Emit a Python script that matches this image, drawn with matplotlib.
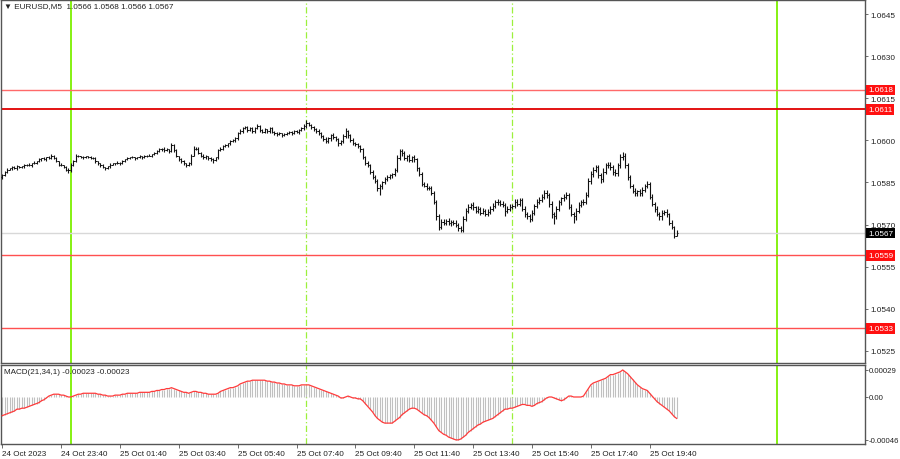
import matplotlib
matplotlib.use("Agg")
import matplotlib.pyplot as plt
import numpy as np
import pandas as pd
from matplotlib.transforms import blended_transform_factory

# ---------------- data ----------------
symbol_title = "EURUSD,M5"
start_time = "2023-10-24 21:40"
bar_minutes = 5
price_base = 1.0
price_unit = 1e-5
first_open = 5870

close_pts = [
    5875, 5889, 5896, 5900, 5904, 5900, 5907, 5904, 5907, 5911,
    5914, 5911, 5918, 5921, 5925, 5932, 5936, 5932, 5939, 5936,
    5946, 5936, 5925, 5914, 5911, 5904, 5896, 5893, 5911, 5925,
    5946, 5943, 5939, 5939, 5943, 5939, 5936, 5936, 5925, 5918,
    5911, 5904, 5900, 5907, 5914, 5918, 5918, 5921, 5918, 5925,
    5932, 5936, 5939, 5939, 5936, 5939, 5943, 5939, 5943, 5946,
    5946, 5950, 5954, 5961, 5968, 5971, 5964, 5968, 5961, 5982,
    5964, 5943, 5932, 5925, 5918, 5911, 5918, 5946, 5971, 5971,
    5954, 5946, 5939, 5943, 5936, 5932, 5929, 5939, 5964, 5971,
    5979, 5982, 5989, 5996, 6000, 6007, 6025, 6032, 6043, 6046,
    6036, 6043, 6032, 6043, 6050, 6036, 6029, 6039, 6032, 6043,
    6029, 6025, 6021, 6025, 6018, 6021, 6025, 6029, 6025, 6032,
    6029, 6036, 6043, 6050, 6061, 6054, 6046, 6039, 6032, 6025,
    6014, 6004, 5996, 6007, 6018, 6011, 6004, 5989, 5996, 6014,
    6032, 6018, 6000, 5989, 5986, 5979, 5968, 5939, 5921, 5911,
    5889, 5871, 5857, 5829, 5836, 5850, 5864, 5868, 5875, 5879,
    5896, 5936, 5961, 5954, 5936, 5943, 5929, 5939, 5932, 5900,
    5879, 5846, 5839, 5832, 5829, 5814, 5782, 5729, 5693, 5711,
    5707, 5714, 5704, 5711, 5707, 5700, 5689, 5682, 5721, 5750,
    5764, 5771, 5761, 5750, 5757, 5743, 5750, 5739, 5746, 5757,
    5768, 5779, 5782, 5775, 5771, 5750, 5757, 5764, 5768, 5782,
    5775, 5786, 5757, 5739, 5729, 5721, 5743, 5768, 5782, 5789,
    5800, 5814, 5804, 5775, 5739, 5729, 5757, 5779, 5793, 5800,
    5807, 5764, 5739, 5729, 5750, 5771, 5779, 5782, 5807, 5857,
    5879, 5896, 5904, 5875, 5861, 5889, 5911, 5914, 5904, 5889,
    5882, 5911, 5939, 5946, 5914, 5868, 5839, 5821, 5811, 5818,
    5811, 5825, 5836, 5843, 5800, 5775, 5757, 5739, 5729, 5743,
    5746, 5736, 5707, 5690, 5660, 5670,
]

upper_wick = [
    4, 3, 5, 2, 4, 3, 5, 3, 2, 4,
    3, 5, 2, 4, 3, 6, 2, 4, 3, 5,
    6, 3, 4, 2, 5, 3, 4, 6, 8, 4,
    5, 3, 2, 4, 3, 2, 4, 3, 5, 2,
    3, 4, 2, 3, 5, 3, 2, 4, 3, 5,
    2, 4, 3, 5, 2, 3, 4, 2, 5, 3,
    4, 3, 5, 4, 6, 3, 5, 4, 3, 8,
    4, 6, 3, 5, 4, 3, 6, 5, 8, 4,
    5, 3, 4, 6, 3, 5, 4, 3, 6, 5,
    4, 6, 3, 5, 4, 6, 5, 7, 4, 6,
    5, 4, 6, 3, 7, 4, 5, 6, 3, 5,
    4, 3, 5, 4, 3, 6, 4, 5, 3, 4,
    5, 6, 4, 7, 12, 5, 6, 4, 5, 7,
    6, 5, 8, 4, 6, 7, 5, 4, 6, 10,
    12, 6, 5, 7, 4, 6, 5, 4, 6, 5,
    5, 7, 4, 6, 8, 5, 6, 7, 5, 6,
    6, 12, 10, 7, 8, 6, 9, 7, 8, 5,
    6, 7, 5, 8, 6, 7, 5, 6, 8, 10,
    8, 6, 9, 7, 5, 8, 6, 7, 9, 10,
    8, 7, 9, 6, 8, 7, 10, 6, 8, 9,
    9, 7, 8, 6, 10, 7, 9, 8, 6, 8,
    8, 9, 7, 10, 6, 8, 9, 7, 10, 8,
    9, 11, 8, 7, 10, 6, 9, 8, 7, 10,
    8, 7, 9, 6, 10, 8, 7, 9, 8, 10,
    12, 9, 8, 10, 7, 11, 9, 10, 8, 7,
    9, 10, 12, 11, 8, 7, 9, 6, 8, 7,
    8, 9, 10, 12, 7, 8, 6, 9, 7, 8,
    7, 9, 6, 8, 5, 10,
]

lower_wick = [
    8, 3, 4, 2, 5, 3, 4, 2, 3, 4,
    4, 3, 5, 2, 4, 3, 5, 3, 4, 2,
    3, 4, 2, 5, 3, 4, 5, 10, 4, 3,
    2, 4, 3, 5, 2, 3, 4, 3, 5, 4,
    5, 4, 6, 3, 4, 2, 5, 3, 4, 2,
    3, 2, 4, 3, 5, 2, 3, 4, 2, 3,
    3, 5, 2, 4, 3, 5, 4, 3, 5, 4,
    5, 4, 6, 5, 7, 5, 4, 6, 3, 5,
    4, 5, 6, 4, 7, 5, 8, 4, 5, 3,
    4, 3, 5, 4, 3, 5, 4, 3, 6, 4,
    5, 3, 4, 6, 3, 5, 4, 3, 5, 4,
    3, 5, 4, 3, 5, 4, 3, 4, 5, 3,
    4, 5, 3, 6, 5, 4, 6, 5, 4, 6,
    5, 7, 6, 5, 8, 6, 5, 8, 6, 5,
    6, 8, 5, 7, 6, 5, 8, 6, 9, 7,
    8, 7, 9, 10, 25, 8, 6, 9, 7, 8,
    7, 8, 6, 9, 7, 8, 6, 7, 9, 8,
    7, 8, 6, 9, 7, 10, 8, 12, 14, 9,
    8, 10, 7, 9, 8, 10, 11, 9, 7, 8,
    9, 8, 10, 7, 9, 8, 7, 10, 8, 9,
    8, 10, 9, 8, 7, 20, 9, 8, 10, 9,
    8, 10, 9, 11, 8, 10, 9, 8, 10, 9,
    10, 8, 9, 11, 14, 28, 10, 9, 8, 10,
    9, 8, 10, 25, 12, 9, 8, 10, 9, 8,
    11, 10, 9, 10, 12, 9, 8, 10, 9, 11,
    9, 10, 8, 9, 12, 10, 9, 8, 10, 9,
    10, 9, 8, 7, 10, 9, 12, 10, 14, 11,
    10, 9, 8, 7, 6, 0,
]

# MACD(21,34,1) values in 1e-5 units
macd_pts = [
    -20, -19, -18, -17, -16, -15, -13, -13, -12, -12,
    -11, -10, -9, -8, -7, -6, -4, -3, -1, 1,
    2, 3, 3, 3, 2, 2, 1, 0, 0, 1,
    2, 3, 3, 4, 4, 4, 4, 4, 4, 3,
    3, 2, 2, 1, 1, 1, 2, 2, 2, 3,
    3, 4, 4, 4, 4, 4, 5, 5, 5, 5,
    5, 6, 6, 7, 7, 8, 8, 9, 9, 10,
    9, 8, 7, 6, 5, 5, 4, 5, 6, 6,
    5, 5, 4, 4, 3, 3, 3, 3, 4, 6,
    7, 8, 9, 10, 10, 11, 12, 14, 15, 16,
    17, 17, 18, 18, 18, 18, 18, 18, 17, 17,
    16, 16, 15, 15, 14, 14, 13, 13, 13, 12,
    12, 12, 13, 13, 13, 13, 12, 11, 10, 9,
    8, 7, 6, 5, 4, 3, 2, 1, -1, -1,
    0, 1, 0, -1, -1, -2, -2, -4, -7, -10,
    -13, -16, -20, -23, -25, -27, -28, -28, -28, -28,
    -26, -24, -22, -19, -17, -15, -13, -12, -12, -13,
    -15, -17, -19, -20, -22, -25, -28, -32, -36, -38,
    -40, -41, -43, -44, -45, -46, -46, -45, -43, -41,
    -38, -36, -34, -32, -30, -29, -27, -26, -25, -24,
    -23, -21, -19, -17, -15, -13, -13, -12, -12, -11,
    -10, -9, -8, -8, -9, -9, -10, -9, -7, -6,
    -5, -3, -1, 0, 0, -1, -2, -3, -4, -3,
    -1, 1, 1, 0, 0, 0, 0, 1, 5, 9,
    13, 15, 16, 17, 18, 19, 20, 22, 24, 24,
    25, 26, 27, 29, 27, 25, 22, 19, 16, 13,
    11, 9, 8, 7, 4, 1, -2, -5, -7, -9,
    -11, -13, -15, -18, -21, -23,
]

level_prices = [1.0618, 1.0611, 1.0559, 1.0533]
level_labels = ["1.0618", "1.0611", "1.0559", "1.0533"]
day_separators = ["2023-10-25 00:00", "2023-10-26 00:00"]
session_marks = ["2023-10-25 08:00", "2023-10-25 15:00"]
price_ticks = [1.0525, 1.0540, 1.0555, 1.0570, 1.0585, 1.0600, 1.0615, 1.0630, 1.0645]
price_tick_labels = ["1.0525", "1.0540", "1.0555", "1.0570", "1.0585", "1.0600", "1.0615", "1.0630", "1.0645"]
macd_ticks = [0.00029, 0.0, -0.00046]
macd_tick_labels = ["0.00029", "0.00", "-0.00046"]
time_label_step = 24
macd_title = "MACD(21,34,1)"

# ---------------- derived ----------------
n = len(close_pts)
idx = np.arange(n)
closes = price_base + np.array(close_pts) * price_unit
opens = price_base + np.array([first_open] + close_pts[:-1]) * price_unit
highs = np.maximum(opens, closes) + np.array(upper_wick) * price_unit
lows = np.minimum(opens, closes) - np.array(lower_wick) * price_unit
macd = np.array(macd_pts) * price_unit
t0 = pd.Timestamp(start_time)
times = t0 + pd.to_timedelta(idx * bar_minutes, unit="min")


def t2i(s):
    return (pd.Timestamp(s) - t0) / pd.Timedelta(minutes=bar_minutes)


# ---------------- figure ----------------
plt.rcParams['font.family'] = ['Liberation Sans', 'DejaVu Sans']
fig = plt.figure(figsize=(9, 4.6), dpi=100)
fig.patch.set_facecolor("white")

W, H = 900.0, 460.0
ax = fig.add_axes([1 / W, 1 - 364 / H, 864 / W, 363 / H])
ax2 = fig.add_axes([1 / W, 1 - 445 / H, 864 / W, 79 / H])

xlim = (-0.5, 351.8)
spine_col = "#555555"
txt_col = "#222222"
fs = 5.9

for a in (ax, ax2):
    a.set_xlim(*xlim)
    a.set_facecolor("white")
    for s in a.spines.values():
        s.set_color(spine_col)
        s.set_linewidth(1.0)
    a.yaxis.tick_right()
    a.tick_params(axis="y", direction="out", length=2.5, width=0.6, colors=spine_col,
                  labelsize=fs, labelcolor=txt_col, pad=1.2)
ax2.tick_params(axis="y", labelsize=5.6, pad=0.6, length=2)

ax.set_ylim(1.05207, 1.06500)
ax2.set_ylim(-0.000504, 0.000343)

# vertical markers
for s in day_separators:
    for a in (ax, ax2):
        a.axvline(t2i(s), color="#7cf000", lw=1.3, zorder=1)
for s in session_marks:
    for a in (ax, ax2):
        a.axvline(t2i(s), color="#9cf03c", lw=0.9, ls=(0, (5, 2, 1, 2)), zorder=1)

# bid line
ax.axhline(closes[-1], color="#d8d8d8", lw=1.0, zorder=1)

# level lines
lvl_styles = [("#ff6a6a", 1.0), ("#e00000", 1.3), ("#ff5050", 1.0), ("#ff5050", 1.0)]
for p, (c, w) in zip(level_prices, lvl_styles):
    ax.axhline(p, color=c, lw=w, zorder=2)

# OHLC bars
ax.vlines(idx, lows, highs, color="#111111", lw=0.8, zorder=3)
ax.hlines(opens, idx - 0.5, idx, color="#111111", lw=0.7, zorder=3)
ax.hlines(closes, idx, idx + 0.5, color="#111111", lw=0.7, zorder=3)

# price axis ticks
ax.set_yticks(price_ticks)
ax.set_yticklabels(price_tick_labels)
ax.set_xticks([])

# price labels boxes
tr = blended_transform_factory(ax.transAxes, ax.transData)
for p, lab in zip(level_prices, level_labels):
    ax.text(1.0035, p, lab, transform=tr, ha="left", va="center", fontsize=fs,
            color="white", clip_on=False, zorder=5,
            bbox=dict(boxstyle="square,pad=0.22", fc="#ff1010", ec="none"))
ax.text(1.0035, closes[-1], f"{closes[-1]:.4f}", transform=tr, ha="left", va="center",
        fontsize=fs, color="white", clip_on=False, zorder=5,
        bbox=dict(boxstyle="square,pad=0.22", fc="black", ec="none"))

# header
ax.text(0.004, 0.995,
        f"\u25BC {symbol_title}  {opens[-1]:.4f} {highs[-1]:.4f} {lows[-1]:.4f} {closes[-1]:.4f}",
        transform=ax.transAxes, ha="left", va="top", fontsize=fs, color=txt_col)

# MACD panel
ax2.vlines(idx, 0, macd, color="#c0c0c0", lw=0.8, zorder=2)
ax2.plot(idx, macd, color="#ff3b3b", lw=0.9, zorder=3)
ax2.set_yticks(macd_ticks)
ax2.set_yticklabels(macd_tick_labels)
ax2.text(0.004, 0.96, f"{macd_title} {macd[-1]:.5f} {macd[-1]:.5f}",
         transform=ax2.transAxes, ha="left", va="top", fontsize=fs, color=txt_col)

# time axis
tick_idx = idx[::time_label_step]
tick_lab = []
for k, i in enumerate(tick_idx):
    t = times[i]
    if k == 0:
        tick_lab.append(t.strftime("%d %b %Y"))
    else:
        tick_lab.append(t.strftime("%d %b %H:%M"))
ax2.set_xticks(tick_idx)
ax2.set_xticklabels(tick_lab, ha="left")
ax2.tick_params(axis="x", direction="out", length=3, width=0.6, colors=spine_col,
                labelsize=fs, labelcolor=txt_col, pad=1.5)

fig.savefig("out.png", dpi=100, facecolor="white")
